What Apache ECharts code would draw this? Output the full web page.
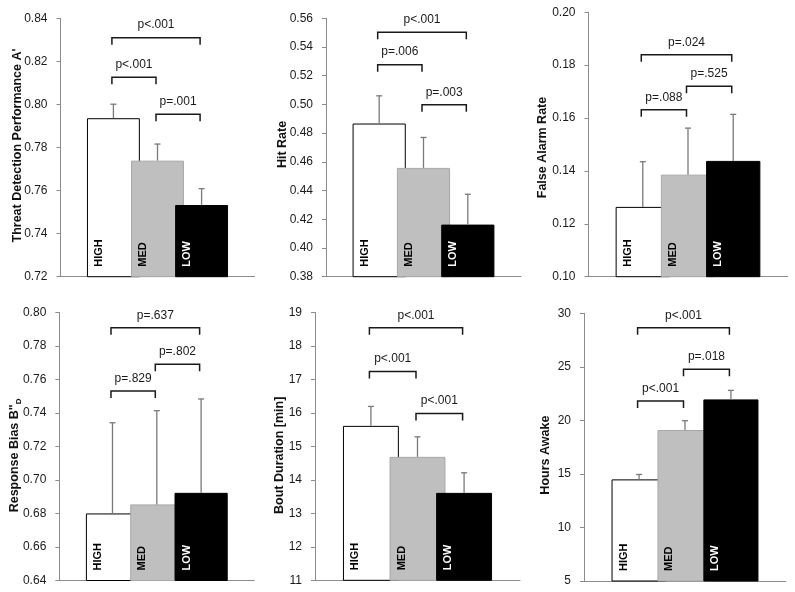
<!DOCTYPE html>
<html>
<head>
<meta charset="utf-8">
<script src="https://cdn.jsdelivr.net/npm/echarts@6/dist/echarts.min.js"></script>
<style>html,body{margin:0;padding:0;background:#fff}#c{width:795px;height:592px}</style>
</head>
<body>
<div id="c"></div>
<script>
// ---- data ----
const groups = ['HIGH', 'MED', 'LOW'];

// Panel 1: Threat Detection Performance A'
const threatMean = [0.7936, 0.7739, 0.7533];
const threatSem  = [0.0065, 0.0077, 0.0076];
const threatAxis = [0.72, 0.84, 0.02];
const threatPairs = [[0, 2, 0.8310, 'p<.001'], [0, 1, 0.8126, 'p<.001'], [1, 2, 0.7954, 'p=.001']];

// Panel 2: Hit Rate
const hitMean = [0.4867, 0.4558, 0.4163];
const hitSem  = [0.0193, 0.0212, 0.0211];
const hitAxis = [0.38, 0.56, 0.02];
const hitPairs = [[0, 2, 0.5502, 'p<.001'], [0, 1, 0.5277, 'p=.006'], [1, 2, 0.4998, 'p=.003']];

// Panel 3: False Alarm Rate
const faMean = [0.1264, 0.1386, 0.1438];
const faSem  = [0.0171, 0.0176, 0.0176];
const faAxis = [0.10, 0.20, 0.02];
const faPairs = [[0, 2, 0.1839, 'p=.024'], [0, 1, 0.1631, 'p=.088'], [1, 2, 0.1720, 'p=.525']];

// Panel 4: Response Bias B''D
const biasMean = [0.6800, 0.6854, 0.6923];
const biasSem  = [0.0541, 0.0559, 0.0560];
const biasAxis = [0.64, 0.80, 0.02];
const biasPairs = [[0, 2, 0.7908, 'p=.637'], [0, 1, 0.7530, 'p=.829'], [1, 2, 0.7690, 'p=.802']];

// Panel 5: Bout Duration [min]
const boutMean = [15.61, 14.685, 13.61];
const boutSem  = [0.58, 0.598, 0.60];
const boutAxis = [11, 19, 1];
const boutPairs = [[0, 2, 18.54, 'p<.001'], [0, 1, 17.23, 'p<.001'], [1, 2, 15.98, 'p<.001']];

// Panel 6: Hours Awake
const awakeMean = [14.49, 19.10, 21.96];
const awakeSem  = [0.46, 0.87, 0.84];
const awakeAxis = [5, 30, 5];
const awakePairs = [[0, 2, 28.65, 'p<.001'], [0, 1, 21.80, 'p<.001'], [1, 2, 24.77, 'p=.018']];

// ---- layout / style ----
const FONT = 'Liberation Sans, Arial, sans-serif';
const BAR_FRAC = 1.2;
const fills = ['#ffffff', '#bfbfbf', '#000000'];
const borders = ['#000000', '#a8a8a8', '#000000'];
const labelColors = ['#000', '#000', '#fff'];

const panels = [
  {name: "Threat Detection Performance A'", mean: threatMean, sem: threatSem, axis: threatAxis, pairs: threatPairs, dec: 2,
   grid: {left: 60.5, top: 18.3, width: 194, height: 258.4}, gap: 36.5, shift: -2},
  {name: 'Hit Rate', mean: hitMean, sem: hitSem, axis: hitAxis, pairs: hitPairs, dec: 2,
   grid: {left: 326, top: 18.3, width: 195, height: 258.4}, gap: 36.5, shift: -3},
  {name: 'False Alarm Rate', mean: faMean, sem: faSem, axis: faAxis, pairs: faPairs, dec: 2,
   grid: {left: 588.5, top: 12.3, width: 199, height: 264.4}, gap: 39.5, shift: 3},
  {name: 'Response Bias B"{s|D}', mean: biasMean, sem: biasSem, axis: biasAxis, pairs: biasPairs, dec: 2,
   grid: {left: 59.3, top: 312.3, width: 195, height: 268.2}, gap: 37, shift: 9},
  {name: 'Bout Duration [min]', mean: boutMean, sem: boutSem, axis: boutAxis, pairs: boutPairs, dec: 0,
   grid: {left: 315, top: 312.3, width: 205, height: 268}, gap: 28.5, shift: 9},
  {name: 'Hours Awake', mean: awakeMean, sem: awakeSem, axis: awakeAxis, pairs: awakePairs, dec: 0,
   grid: {left: 584, top: 313.3, width: 202, height: 267.7}, gap: 31.5, shift: 8}
];

const grid = [], xAxis = [], yAxis = [], series = [];
panels.forEach((p, k) => {
  grid.push(Object.assign({containLabel: false}, p.grid));
  xAxis.push({
    gridIndex: k, type: 'value', min: -1.2, max: 3.2,
    axisLine: {show: true, onZero: false, lineStyle: {color: '#8c8c8c', width: 1}},
    axisTick: {show: false}, axisLabel: {show: false}, splitLine: {show: false}
  });
  const d = p.shift;
  yAxis.push({
    gridIndex: k, type: 'value', min: p.axis[0], max: p.axis[1], interval: p.axis[2],
    name: p.name, nameLocation: 'middle', nameGap: p.gap, nameRotate: 90, nameMoveOverlap: false,
    nameTextStyle: {fontFamily: FONT, fontSize: 12.5, fontWeight: 'bold', color: '#111',
      padding: [0, d > 0 ? 2 * d : 0, 0, d < 0 ? -2 * d : 0],
      rich: {s: {fontFamily: FONT, fontSize: 8, fontWeight: 'bold', color: '#111', verticalAlign: 'bottom', padding: [8, 0, 0, 0]}}},
    axisLine: {show: true, onZero: false, lineStyle: {color: '#8c8c8c', width: 1}},
    axisTick: {show: true, inside: false, length: 4, lineStyle: {color: '#8c8c8c'}},
    axisLabel: {fontFamily: FONT, fontSize: 12, color: '#1a1a1a', margin: 13,
      formatter: v => v.toFixed(p.dec)},
    splitLine: {show: false}
  });
  // bars
  series.push({
    type: 'bar', xAxisIndex: k, yAxisIndex: k, barWidth: (BAR_FRAC * 100) + '%',
    data: p.mean.map((v, i) => ({value: [i, v], itemStyle: {color: fills[i], borderColor: borders[i], borderWidth: 1}})),
    z: 2, silent: true
  });
  // error bars (upper only)
  series.push({
    type: 'custom', xAxisIndex: k, yAxisIndex: k, z: 3, silent: true,
    data: p.mean.map((v, i) => [i, v, v + p.sem[i]]),
    encode: {x: 0, y: [1, 2]},
    renderItem: (params, api) => {
      const a = api.coord([api.value(0), api.value(1)]);
      const b = api.coord([api.value(0), api.value(2)]);
      const st = {stroke: '#7a7a7a', lineWidth: 1.3};
      return {type: 'group', children: [
        {type: 'line', shape: {x1: a[0], y1: a[1], x2: b[0], y2: b[1]}, style: st},
        {type: 'line', shape: {x1: b[0] - 3, y1: b[1], x2: b[0] + 3, y2: b[1]}, style: st}
      ]};
    }
  });
  // group labels inside bars
  series.push({
    type: 'custom', xAxisIndex: k, yAxisIndex: k, z: 4, silent: true,
    data: groups.map((g, i) => [i, p.axis[0]]),
    encode: {x: 0, y: 1},
    renderItem: (params, api) => {
      const i = params.dataIndex;
      const c = api.coord([api.value(0), api.value(1)]);
      const bw = api.size([BAR_FRAC, 0])[0];
      return {type: 'text', x: c[0] - bw / 2 + 12, y: c[1] - 10, rotation: Math.PI / 2,
        style: {text: groups[i], fill: labelColors[i], font: 'bold 11px ' + FONT, align: 'left', verticalAlign: 'middle'}};
    }
  });
  // significance brackets
  series.push({
    type: 'custom', xAxisIndex: k, yAxisIndex: k, z: 5, silent: true,
    data: p.pairs.map(q => [q[0], q[1], q[2]]),
    encode: {x: [0, 1], y: 2},
    renderItem: (params, api) => {
      const q = p.pairs[params.dataIndex];
      const a = api.coord([q[0], q[2]]);
      const b = api.coord([q[1], q[2]]);
      const x1 = a[0] - 1.5, x2 = b[0] - 1.5, y = a[1];
      const st = {stroke: '#1a1a1a', lineWidth: 1.5, fill: null};
      return {type: 'group', children: [
        {type: 'polyline', shape: {points: [[x1, y + 7], [x1, y], [x2, y], [x2, y + 7]]}, style: st},
        {type: 'text', x: (x1 + x2) / 2, y: y - 12.5,
         style: {text: q[3], fill: '#1a1a1a', font: '12px ' + FONT, align: 'center', verticalAlign: 'middle'}}
      ]};
    }
  });
});

const chart = echarts.init(document.getElementById('c'), null, {renderer: 'canvas'});
chart.setOption({animation: false, backgroundColor: '#ffffff', grid, xAxis, yAxis, series});
</script>
</body>
</html>
